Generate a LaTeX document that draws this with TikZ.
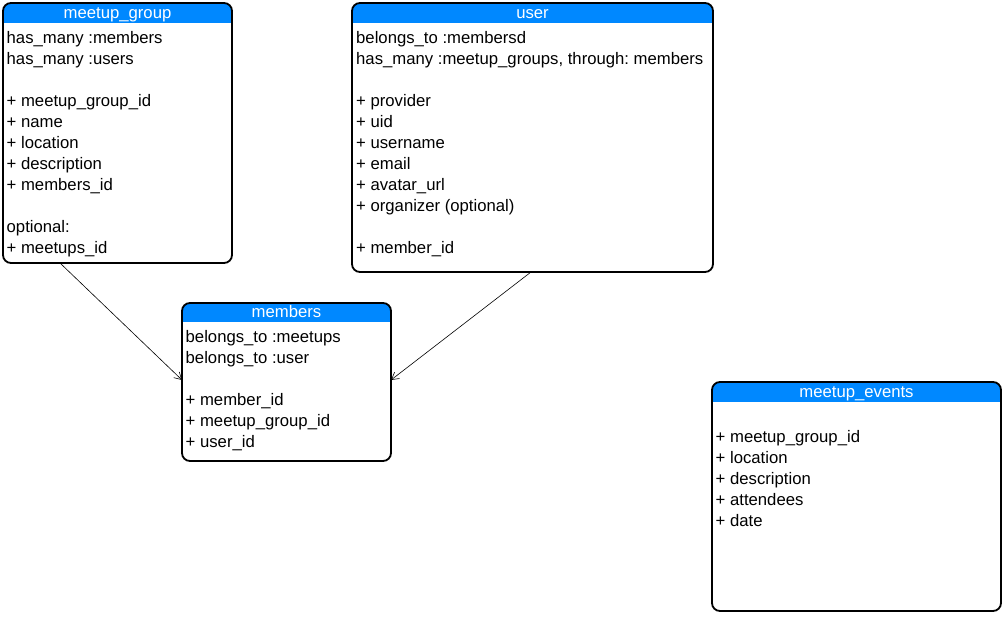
\documentclass[tikz,border=0pt]{standalone}
\usepackage{fontspec}
\setmainfont{Liberation Sans}
\usetikzlibrary{arrows.meta,calc}
\definecolor{hdrblue}{RGB}{0,136,255}
\begin{document}
\frenchspacing
\begin{tikzpicture}[x=1pt,y=-1pt, font=\fontsize{16.7}{21}\selectfont]
\tikzset{
 frame/.style={rectangle, draw=none, inner sep=0pt, outer sep=0pt},
 border/.style={draw=black, line width=1.8pt, rounded corners=8pt},
 hdr/.style={fill=hdrblue},
 title/.style={text=white, anchor=base, inner sep=0pt},
 body/.style={anchor=north west, align=left, inner sep=0pt},
 link/.style={line width=0.6pt, -{Straight Barb[length=7pt,width=8pt]}}
}
\useasboundingbox (0,0) rectangle (1003,616);
% frames
\node[frame, minimum width=229pt, minimum height=260pt] (mg) at (117.5,133) {};
\node[frame, minimum width=361pt, minimum height=269pt] (usr) at (532.5,137.5) {};
\node[frame, minimum width=209pt, minimum height=158pt] (mem) at (286.5,382) {};
\node[frame, minimum width=289pt, minimum height=229pt] (ev) at (856.5,496.5) {};
% headers
\foreach \n/\h in {mg/20, usr/20, mem/19, ev/20}{
 \begin{scope}
  \clip[rounded corners=8pt] (\n.south west) rectangle (\n.north east);
  \fill[hdr] (\n.north west) rectangle ([yshift=-\h pt]\n.north east);
 \end{scope}
 \draw[border] (\n.south west) rectangle (\n.north east);
}
% titles
\node[title] (mgh) at ([yshift=-15pt]mg.north) {meetup\_group};
\node[title] (usrh) at ([yshift=-15pt]usr.north) {user};
\node[title] (memh) at ([yshift=-14pt]mem.north) {members};
\node[title] (evh) at ([yshift=-15pt]ev.north) {meetup\_events};
% bodies
\node[body] (mgb) at ([xshift=3.5pt,yshift=-25.3pt]mg.north west) {\strut has\_many :members\\\strut has\_many :users\\\strut\\\strut + meetup\_group\_id\\\strut + name\\\strut + location\\\strut + description\\\strut + members\_id\\\strut\\\strut optional:\\\strut + meetups\_id};
\node[body] (usrb) at ([xshift=4pt,yshift=-25.3pt]usr.north west) {\strut belongs\_to :membersd\\\strut has\_many :meetup\_groups, through: members\\\strut\\\strut + provider\\\strut + uid\\\strut + username\\\strut + email\\\strut + avatar\_url\\\strut + organizer (optional)\\\strut\\\strut + member\_id};
\node[body] (memb) at ([xshift=3.5pt,yshift=-24.3pt]mem.north west) {\strut belongs\_to :meetups\\\strut belongs\_to :user\\\strut\\\strut + member\_id\\\strut + meetup\_group\_id\\\strut + user\_id};
\node[body] (evb) at ([xshift=3.5pt,yshift=-24.8pt]ev.north west) {\strut\\\strut + meetup\_group\_id\\\strut + location\\\strut + description\\\strut + attendees\\\strut + date};
% connectors
\draw[link] ([xshift=57pt]mg.south west) -- ([yshift=-77pt]mem.north west);
\draw[link] ([xshift=179pt]usr.south west) -- ([yshift=-77pt]mem.north east);
\end{tikzpicture}
\end{document}
